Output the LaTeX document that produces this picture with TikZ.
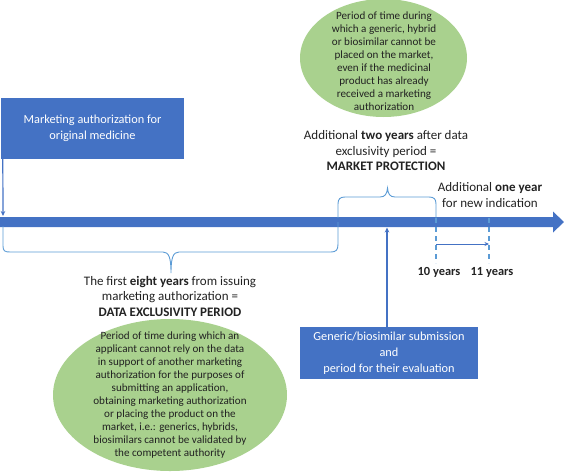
\documentclass[tikz,border=0pt]{standalone}
\usepackage{fontspec}
\setmainfont{Carlito}
\usetikzlibrary{arrows.meta,shapes.geometric}
\definecolor{obBlue}{HTML}{4472C4}
\definecolor{ltBlue}{HTML}{5B9BD5}
\definecolor{obGreen}{HTML}{A9D18E}
\definecolor{txtDark}{HTML}{222222}
\begin{document}
\begin{tikzpicture}[x=1pt,y=-1pt,
  bluebox/.style={fill=obBlue, text=white, inner sep=0pt, align=center, font=\fontsize{12.3}{16}\selectfont},
  greenell/.style={ellipse, fill=obGreen, inner sep=0pt},
  elltext/.style={align=center, text=txtDark, inner sep=0pt, font=\fontsize{11.1}{13}\selectfont},
  lbl/.style={align=center, text=txtDark, inner sep=0pt, font=\fontsize{13}{15.5}\selectfont},
  conn/.style={draw=obBlue, line width=1.2pt, -{Stealth[length=5pt,width=4.5pt]}},
  bracepath/.style={draw=ltBlue, line width=0.9pt},
  tickline/.style={draw=ltBlue, line width=2pt, dash pattern=on 5pt off 4pt}]
\useasboundingbox (0,0) rectangle (564,471);

% green ellipses
\node[greenell, minimum width=167pt, minimum height=118pt] (eTop) at (383.5,58) {};
\node[elltext] (eTopText) at (384,61) {Period of time during\\which a generic, hybrid\\or biosimilar cannot be\\placed on the market,\\even if the medicinal\\product has already\\received a marketing\\authorization};

\node[greenell, minimum width=234pt, minimum height=152pt] (eBot) at (170,395) {};
\node[elltext] (eBotText) at (170,395.5) {Period of time during which an\\applicant cannot rely on the data\\in support of another marketing\\authorization for the purposes of\\submitting an application,\\obtaining marketing authorization\\or placing the product on the\\market, i.e.: generics, hybrids,\\biosimilars cannot be validated by\\the competent authority};

% blue boxes
\node[bluebox, minimum width=183pt, minimum height=61pt] (mao) at (92.5,128.5) {Marketing authorization for\\original medicine};
\node[bluebox, minimum width=178pt, minimum height=52pt] (gbox) at (389,353) {Generic/biosimilar submission\\and\\period for their evaluation};

% main time axis
\fill[obBlue] (0,217) -- (553,217) -- (553,211.5) -- (564,222) -- (553,232.5) -- (553,227) -- (0,227) -- cycle;
\coordinate (axIn) at (3,216);
\coordinate (axOut) at (387,227.5);

% connectors
\draw[conn] ([xshift=2pt]mao.south west) -- (axIn);
\draw[conn] ([xshift=-2pt]gbox.north) -- (axOut);

% dashed ticks
\draw[tickline] (436,218) -- (436,263);
\draw[tickline] (489,218) -- (489,263);
\coordinate (t10) at (436,244);
\coordinate (t11) at (489,244);
\draw[draw=obBlue, line width=1pt, -{Stealth[length=4.5pt,width=4pt]}] (t10) -- (t11);

% braces
\draw[bracepath] (3,226) -- (3,246) .. controls (3,251) and (5,252) .. (10,252) -- (163,252)
  .. controls (169,252) and (171,258) .. (171,273)
  .. controls (171,258) and (173,252) .. (179,252) -- (331,252)
  .. controls (336,252) and (338,250) .. (338,244) -- (338,222);
\draw[bracepath] (338,218) -- (338,204) .. controls (338,199) and (340,197) .. (345,197) -- (380,197)
  .. controls (385,197) and (387,194) .. (387.5,188)
  .. controls (388,194) and (390,197) .. (395,197) -- (429,197)
  .. controls (434,197) and (436,199) .. (436,204) -- (436,218);

% labels
\node[lbl] (mpLbl) at (386,151) {Additional \textbf{two years} after data\\exclusivity period =\\\textbf{MARKET PROTECTION}};
\node[lbl] (oneLbl) at (490,195) {Additional \textbf{one year}\\for new indication};
\node[lbl, font=\fontsize{12.4}{13}\selectfont\bfseries] (y10) at (439,272) {10 years};
\node[lbl, font=\fontsize{12.4}{13}\selectfont\bfseries] (y11) at (492,272) {11 years};
\node[lbl] (deLbl) at (170,296) {The first \textbf{eight years} from issuing\\marketing authorization =\\\textbf{DATA EXCLUSIVITY PERIOD}};
\end{tikzpicture}
\end{document}
